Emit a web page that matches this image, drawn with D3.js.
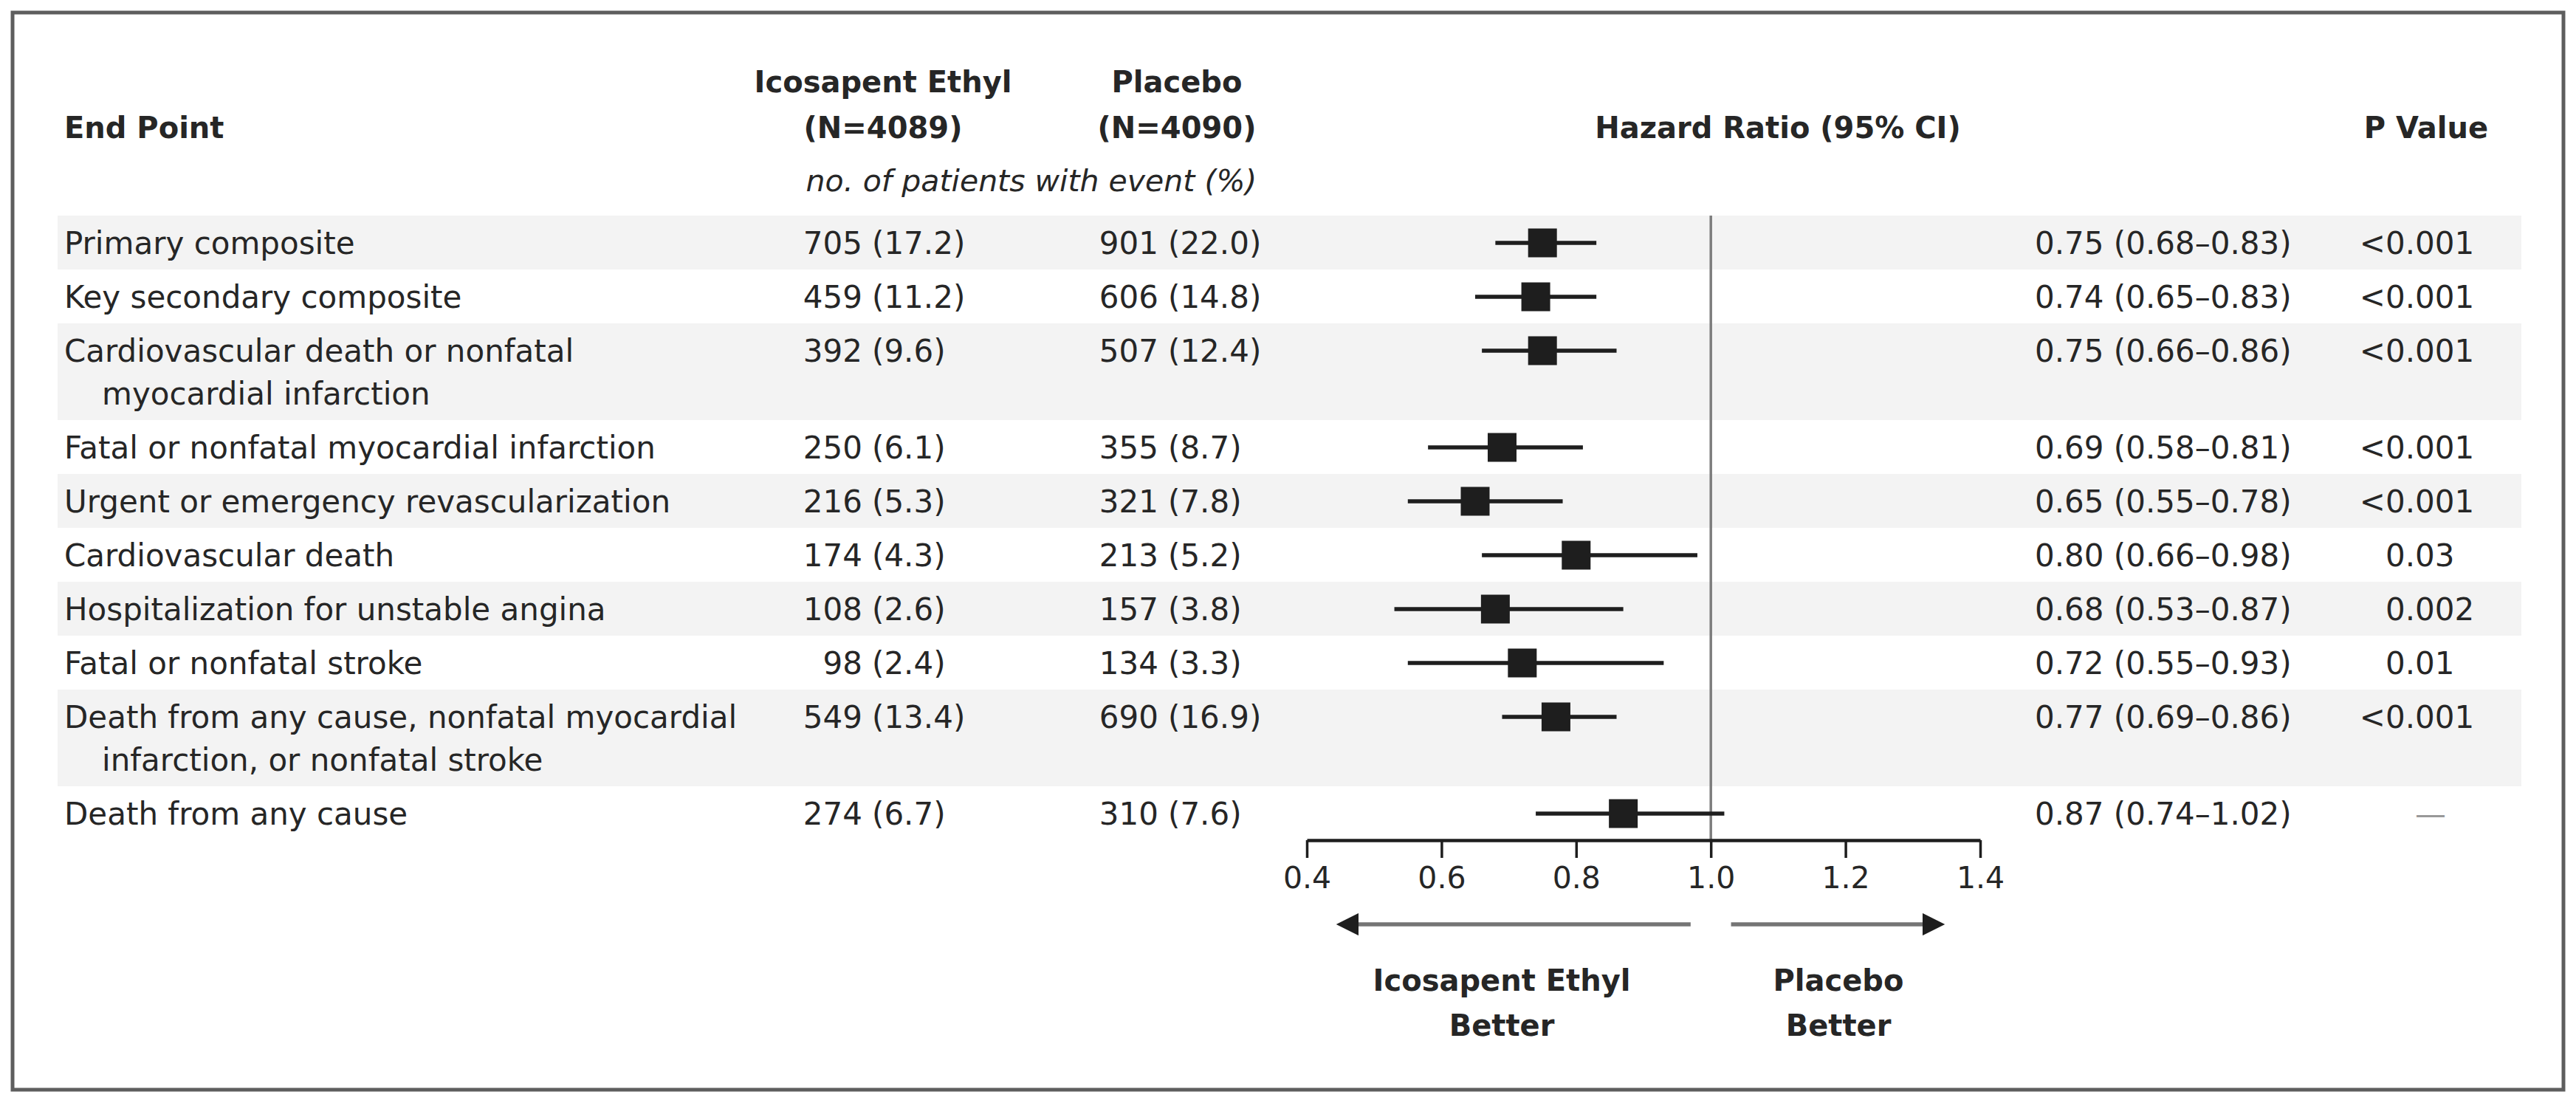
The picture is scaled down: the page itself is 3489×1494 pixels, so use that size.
<!DOCTYPE html>
<html>
<head>
<meta charset="utf-8">
<script src="https://cdn.jsdelivr.net/npm/d3@7"></script>
<style>
  body { margin: 0; background: #fff; }
  text { font-family: "DejaVu Sans", sans-serif; fill: #262626; }
</style>
</head>
<body>
<div id="chart"></div>
<script>
// End points, one string per printed line
const endPoints = [
    ["Primary composite"],
    ["Key secondary composite"],
    ["Cardiovascular death or nonfatal", "myocardial infarction"],
    ["Fatal or nonfatal myocardial infarction"],
    ["Urgent or emergency revascularization"],
    ["Cardiovascular death"],
    ["Hospitalization for unstable angina"],
    ["Fatal or nonfatal stroke"],
    ["Death from any cause, nonfatal myocardial", "infarction, or nonfatal stroke"],
    ["Death from any cause"]
];
const ipeEvents = [705, 459, 392, 250, 216, 174, 108, 98, 549, 274];
const ipePct = [17.2, 11.2, 9.6, 6.1, 5.3, 4.3, 2.6, 2.4, 13.4, 6.7];
const pboEvents = [901, 606, 507, 355, 321, 213, 157, 134, 690, 310];
const pboPct = [22.0, 14.8, 12.4, 8.7, 7.8, 5.2, 3.8, 3.3, 16.9, 7.6];
const hazardRatio = [0.75, 0.74, 0.75, 0.69, 0.65, 0.80, 0.68, 0.72, 0.77, 0.87];
const ciLow = [0.68, 0.65, 0.66, 0.58, 0.55, 0.66, 0.53, 0.55, 0.69, 0.74];
const ciHigh = [0.83, 0.83, 0.86, 0.81, 0.78, 0.98, 0.87, 0.93, 0.86, 1.02];
const pValues = ["<0.001", "<0.001", "<0.001", "<0.001", "<0.001", "0.03", "0.002", "0.01", "<0.001", "\u2014"];
const xTicks = [0.4, 0.6, 0.8, 1.0, 1.2, 1.4];

const width = 3489;
const height = 1494;

const svg = d3.select('#chart').append('svg')
    .attr('width', width)
    .attr('height', height);

// Outer frame
svg.append('rect')
    .attr('x', 17).attr('y', 17)
    .attr('width', 3455).attr('height', 1459)
    .attr('fill', '#fff')
    .attr('stroke', '#5e5e5e')
    .attr('stroke-width', 5);

// Row layout: single line rows 73px, each extra line adds 58px
const tableTop = 292;
const rowH = endPoints.map(l => 73 + 58 * (l.length - 1));
const rowTop = rowH.map((h, i) => tableTop + d3.sum(rowH.slice(0, i)));
const tableBottom = tableTop + d3.sum(rowH);

const rows = endPoints.map((lines, i) => ({
    lines: lines,
    top: rowTop[i],
    h: rowH[i],
    ipeN: ipeEvents[i], ipeP: ipePct[i],
    pboN: pboEvents[i], pboP: pboPct[i],
    hr: hazardRatio[i], lo: ciLow[i], hi: ciHigh[i],
    p: pValues[i],
    i: i
}));

const xScale = d3.scaleLinear()
    .domain([0.4, 1.4])
    .range([1770, 2682]);

// Shaded bands
svg.append('g').selectAll('rect')
    .data(rows.filter(d => d.i % 2 === 0))
    .enter()
    .append('rect')
    .attr('x', 78)
    .attr('y', d => d.top)
    .attr('width', 3415 - 78)
    .attr('height', d => d.h)
    .attr('fill', '#f3f3f3');

// Headers
const hdr = svg.append('g')
    .style('font-weight', 'bold')
    .style('font-size', '40px');
hdr.append('text').attr('x', 87).attr('y', 187).text('End Point');
hdr.append('text').attr('x', 1196).attr('y', 125).attr('text-anchor', 'middle').text('Icosapent Ethyl');
hdr.append('text').attr('x', 1196).attr('y', 187).attr('text-anchor', 'middle').text('(N=4089)');
hdr.append('text').attr('x', 1594).attr('y', 125).attr('text-anchor', 'middle').text('Placebo');
hdr.append('text').attr('x', 1594).attr('y', 187).attr('text-anchor', 'middle').text('(N=4090)');
hdr.append('text').attr('x', 2408).attr('y', 187).attr('text-anchor', 'middle').text('Hazard Ratio (95% CI)');
hdr.append('text').attr('x', 3286).attr('y', 187).attr('text-anchor', 'middle').text('P Value');

svg.append('text')
    .attr('x', 1397).attr('y', 259)
    .attr('text-anchor', 'middle')
    .style('font-style', 'italic')
    .style('font-size', '41px')
    .text('no. of patients with event (%)');

// Table body text
const body = svg.append('g').style('font-size', '42px');
const rowG = body.selectAll('g.row')
    .data(rows)
    .enter()
    .append('g')
    .attr('class', 'row');

rowG.each(function(d) {
    const g = d3.select(this);
    d.lines.forEach((line, k) => {
        g.append('text')
            .attr('x', k === 0 ? 87 : 138)
            .attr('y', d.top + 52 + k * 58)
            .text(line);
    });
});

const fmt1 = d3.format('.1f');
const fmt2 = d3.format('.2f');

rowG.append('text')
    .attr('x', 1168).attr('y', d => d.top + 52)
    .attr('text-anchor', 'end')
    .text(d => d.ipeN);
rowG.append('text')
    .attr('x', 1181).attr('y', d => d.top + 52)
    .text(d => '(' + fmt1(d.ipeP) + ')');

rowG.append('text')
    .attr('x', 1569).attr('y', d => d.top + 52)
    .attr('text-anchor', 'end')
    .text(d => d.pboN);
rowG.append('text')
    .attr('x', 1582).attr('y', d => d.top + 52)
    .text(d => '(' + fmt1(d.pboP) + ')');

rowG.append('text')
    .attr('x', 2756).attr('y', d => d.top + 52)
    .text(d => fmt2(d.hr) + ' (' + fmt2(d.lo) + '\u2013' + fmt2(d.hi) + ')');

// P values: digits aligned at x=3231, "<" hangs to the left, dash centred
rowG.filter(d => d.p !== '\u2014')
    .append('text')
    .attr('x', 3231).attr('y', d => d.top + 52)
    .text(d => d.p.replace('<', ''));
rowG.filter(d => d.p.startsWith('<'))
    .append('text')
    .attr('x', 3231).attr('y', d => d.top + 52)
    .attr('text-anchor', 'end')
    .text('<');
rowG.filter(d => d.p === '\u2014')
    .append('text')
    .attr('x', 3292).attr('y', d => d.top + 52)
    .attr('text-anchor', 'middle')
    .style('fill', '#999')
    .text(d => d.p);

// Reference line at HR = 1.0
svg.append('line')
    .attr('x1', xScale(1)).attr('x2', xScale(1))
    .attr('y1', tableTop).attr('y2', tableBottom)
    .attr('stroke', '#7d7d7d')
    .attr('stroke-width', 3.5);

// Confidence intervals and point estimates
const markSize = 39;
const plot = svg.append('g');
plot.selectAll('line.ci')
    .data(rows)
    .enter()
    .append('line')
    .attr('class', 'ci')
    .attr('x1', d => xScale(d.lo))
    .attr('x2', d => xScale(d.hi))
    .attr('y1', d => d.top + 37)
    .attr('y2', d => d.top + 37)
    .attr('stroke', '#1e1e1e')
    .attr('stroke-width', 5.5);
plot.selectAll('rect.hr')
    .data(rows)
    .enter()
    .append('rect')
    .attr('class', 'hr')
    .attr('x', d => xScale(d.hr) - markSize / 2)
    .attr('y', d => d.top + 37 - markSize / 2)
    .attr('width', markSize)
    .attr('height', markSize)
    .attr('fill', '#1e1e1e');

// X axis
const xAxis = d3.axisBottom(xScale)
    .tickValues(xTicks)
    .tickFormat(d3.format('.1f'))
    .tickSize(24)
    .tickSizeOuter(0)
    .tickPadding(12);

const axisG = svg.append('g')
    .attr('class', 'axis x-axis')
    .attr('transform', `translate(0,${tableBottom})`)
    .call(xAxis);
axisG.select('.domain').attr('stroke', '#1e1e1e').attr('stroke-width', 4.5);
axisG.selectAll('.tick line').attr('stroke', '#1e1e1e').attr('stroke-width', 3.5);
axisG.selectAll('.tick text')
    .style('font-size', '41px')
    .style('font-family', '"DejaVu Sans", sans-serif')
    .attr('fill', '#333');

// Direction arrows
const arrowY = 1252;
const defs = svg.append('defs');
defs.append('marker')
    .attr('id', 'head')
    .attr('viewBox', '0 0 10 10')
    .attr('refX', 0).attr('refY', 5)
    .attr('markerWidth', 7.5).attr('markerHeight', 5.5)
    .attr('markerUnits', 'strokeWidth')
    .attr('orient', 'auto')
    .append('path')
    .attr('d', 'M0,0L10,5L0,10Z')
    .attr('fill', '#1e1e1e');

svg.append('line')
    .attr('x1', xScale(0.97)).attr('x2', xScale(0.4) + 70)
    .attr('y1', arrowY).attr('y2', arrowY)
    .attr('stroke', '#757575').attr('stroke-width', 5.5)
    .attr('marker-end', 'url(#head)');
svg.append('line')
    .attr('x1', xScale(1.03)).attr('x2', xScale(1.4) - 78)
    .attr('y1', arrowY).attr('y2', arrowY)
    .attr('stroke', '#757575').attr('stroke-width', 5.5)
    .attr('marker-end', 'url(#head)');

const lab = svg.append('g')
    .style('font-weight', 'bold')
    .style('font-size', '40px')
    .attr('text-anchor', 'middle');
lab.append('text').attr('x', 2034).attr('y', 1342).text('Icosapent Ethyl');
lab.append('text').attr('x', 2034).attr('y', 1403).text('Better');
lab.append('text').attr('x', 2490).attr('y', 1342).text('Placebo');
lab.append('text').attr('x', 2490).attr('y', 1403).text('Better');
</script>
</body>
</html>
